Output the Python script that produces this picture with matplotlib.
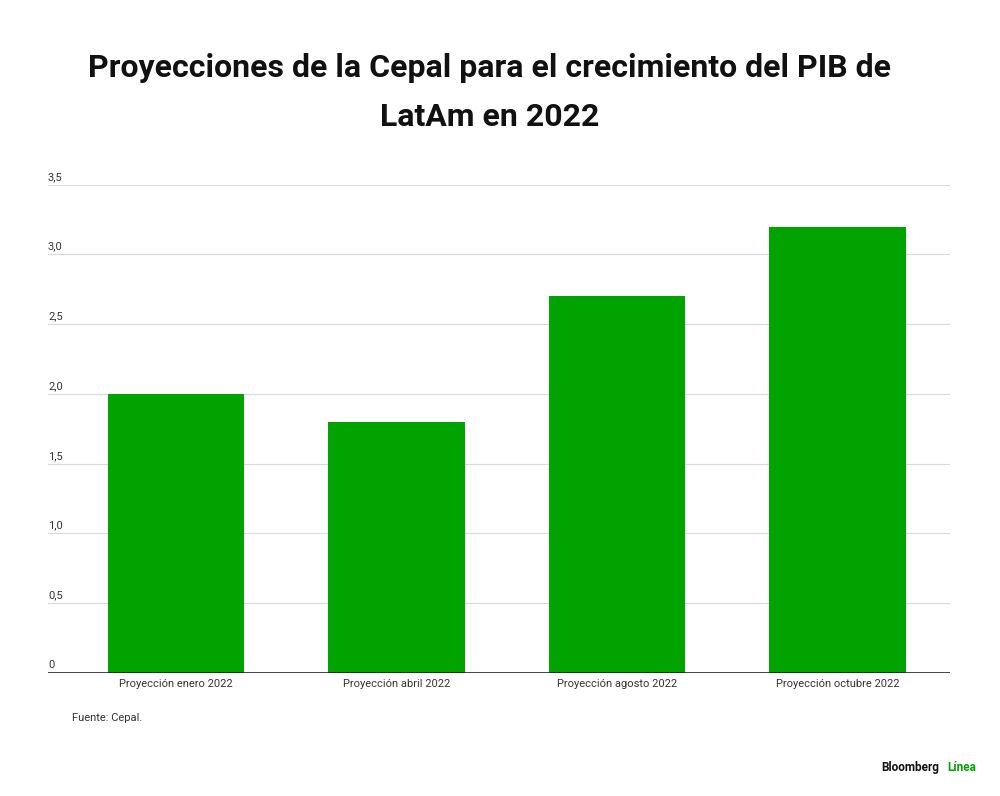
import matplotlib.pyplot as plt

plt.rcParams['font.family'] = ['Roboto', 'DejaVu Sans']

categorias = ["Proyección enero 2022", "Proyección abril 2022",
              "Proyección agosto 2022", "Proyección octubre 2022"]
valores = [2.0, 1.8, 2.7, 3.2]
ticks = [0, 0.5, 1.0, 1.5, 2.0, 2.5, 3.0, 3.5]
tick_labels = ["0", "0,5", "1,0", "1,5", "2,0", "2,5", "3,0", "3,5"]

VERDE = "#00a300"

fig = plt.figure(figsize=(10, 7.96), dpi=100)
ax = fig.add_axes([0.048, 0.1545, 0.902, 0.6135])

ax.bar(range(len(valores)), valores, width=0.62, color=VERDE, zorder=2)
ax.set_xlim(-0.58, 3.51)
ax.set_ylim(0, 3.5)

for t, lab in zip(ticks, tick_labels):
    if t > 0:
        ax.axhline(t, color="#d9d9d9", linewidth=0.8, zorder=1)
    ax.annotate(lab, xy=(0, t), xycoords=("axes fraction", "data"),
                xytext=(0, 2), textcoords="offset points",
                fontsize=8, color="#333333", va="bottom", ha="left")
ax.axhline(0, color="#222222", linewidth=1.2, zorder=3)

ax.set_yticks([])
ax.set_xticks(range(len(categorias)))
ax.set_xticklabels(categorias, fontsize=8, color="#333333")
ax.tick_params(axis="x", length=0, pad=4)
for s in ax.spines.values():
    s.set_visible(False)

fig.text(0.49, 0.915, "Proyecciones de la Cepal para el crecimiento del PIB de",
         ha="center", va="center", fontsize=23, fontweight="bold", color="#111111")
fig.text(0.49, 0.853, "LatAm en 2022",
         ha="center", va="center", fontsize=23, fontweight="bold", color="#111111")
fig.text(0.072, 0.098, "Fuente: Cepal.", fontsize=8, color="#333333", va="center")
fig.text(0.939, 0.036, "Bloomberg", fontsize=8.5, fontweight="bold", color="#111111",
         va="center", ha="right")
fig.text(0.976, 0.036, "Línea", fontsize=8.5, fontweight="bold", color=VERDE,
         va="center", ha="right")

fig.savefig("out.png", dpi=100, facecolor="white")
